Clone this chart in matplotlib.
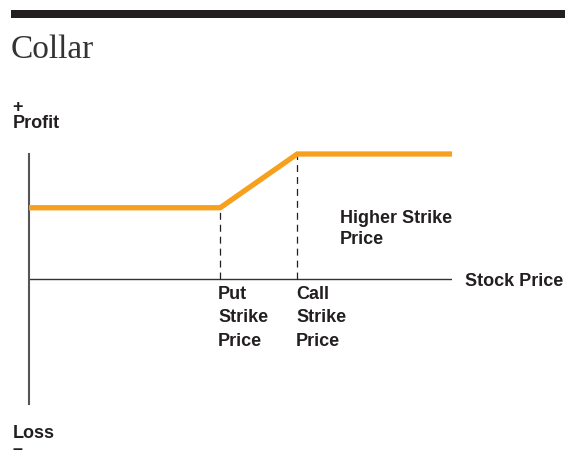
import matplotlib
matplotlib.use("Agg")
import matplotlib.pyplot as plt
from matplotlib.patches import Rectangle

# payoff of a collar (stock price units 0..100, profit units -10..10)
stock_price = [0, 45.2, 63.4, 100]
profit = [5.7, 5.7, 10.0, 10.0]
put_strike = 45.2
call_strike = 63.4

title = "Collar"
put_label = "Put\nStrike\nPrice"
call_label = "Call\nStrike\nPrice"
higher_label = "Higher Strike\nPrice"

orange = "#F6A01E"
ink = "#231F20"

plt.rcParams['font.family'] = ['Liberation Sans', 'DejaVu Sans']
plt.rcParams['lines.scale_dashes'] = False

W, H = 565, 458
fig = plt.figure(figsize=(W / 100, H / 100), dpi=100)

def fx(px):
    return px / W

def fy(py):
    return 1 - py / H

# header bar + title
fig.add_artist(Rectangle((fx(11), fy(17.7)), fx(565) - fx(11), (17.7 - 10) / H,
                         transform=fig.transFigure, color=ink, lw=0))
fig.text(fx(11), fy(58), title, family=['Liberation Serif'], fontsize=24,
         color="#333333", va='baseline')

fig.text(fx(12.5), fy(112), "+", fontsize=13, fontweight='bold', color=ink, va='baseline')
fig.text(fx(12.5), fy(128), "Profit", fontsize=13, fontweight='bold', color=ink, va='baseline')
fig.text(fx(12.5), fy(437.7), "Loss", fontsize=13, fontweight='bold', color=ink, va='baseline')
fig.text(fx(12.5), fy(457.5), "\u2013", fontsize=13, fontweight='bold', color=ink, va='bottom')

# plot area: x 29..452 px, y 154..404 px
ax = fig.add_axes([fx(29), fy(404), (452 - 29) / W, (404 - 154) / H])
ax.set_xlim(0, 100)
ax.set_ylim(-10, 10)
for s in ['top', 'right', 'bottom']:
    ax.spines[s].set_visible(False)
ax.spines['left'].set_color("#555555")
ax.spines['left'].set_linewidth(1.5)
ax.set_xticks([])
ax.set_yticks([])
ax.patch.set_visible(False)

ax.axhline(0, color="#333333", lw=1.0)
ax.vlines([put_strike, call_strike], 0, [profit[1], profit[2]], color=ink, lw=0.9,
          linestyles=[(0, (5, 3.6))])
ax.plot(stock_price, profit, color=orange, lw=3.8, solid_capstyle='butt',
        solid_joinstyle='miter', clip_on=False, zorder=3)

lab = dict(fontsize=13, fontweight='bold', color=ink, textcoords='offset pixels',
           ha='left', va='top', annotation_clip=False)
ax.annotate(put_label, xy=(put_strike, 0), xytext=(-2, -7), linespacing=1.5, **lab)
ax.annotate(call_label, xy=(call_strike, 0), xytext=(-1, -7), linespacing=1.5, **lab)
ax.annotate(higher_label, xy=(call_strike, profit[1]), xytext=(43, -2),
            linespacing=1.3, **lab)
ax.annotate("Stock Price", xy=(100, 0), xytext=(13, -7), textcoords='offset pixels',
            fontsize=13, fontweight='bold', color=ink, ha='left', va='baseline',
            annotation_clip=False)

fig.savefig("out.png", dpi=100)
